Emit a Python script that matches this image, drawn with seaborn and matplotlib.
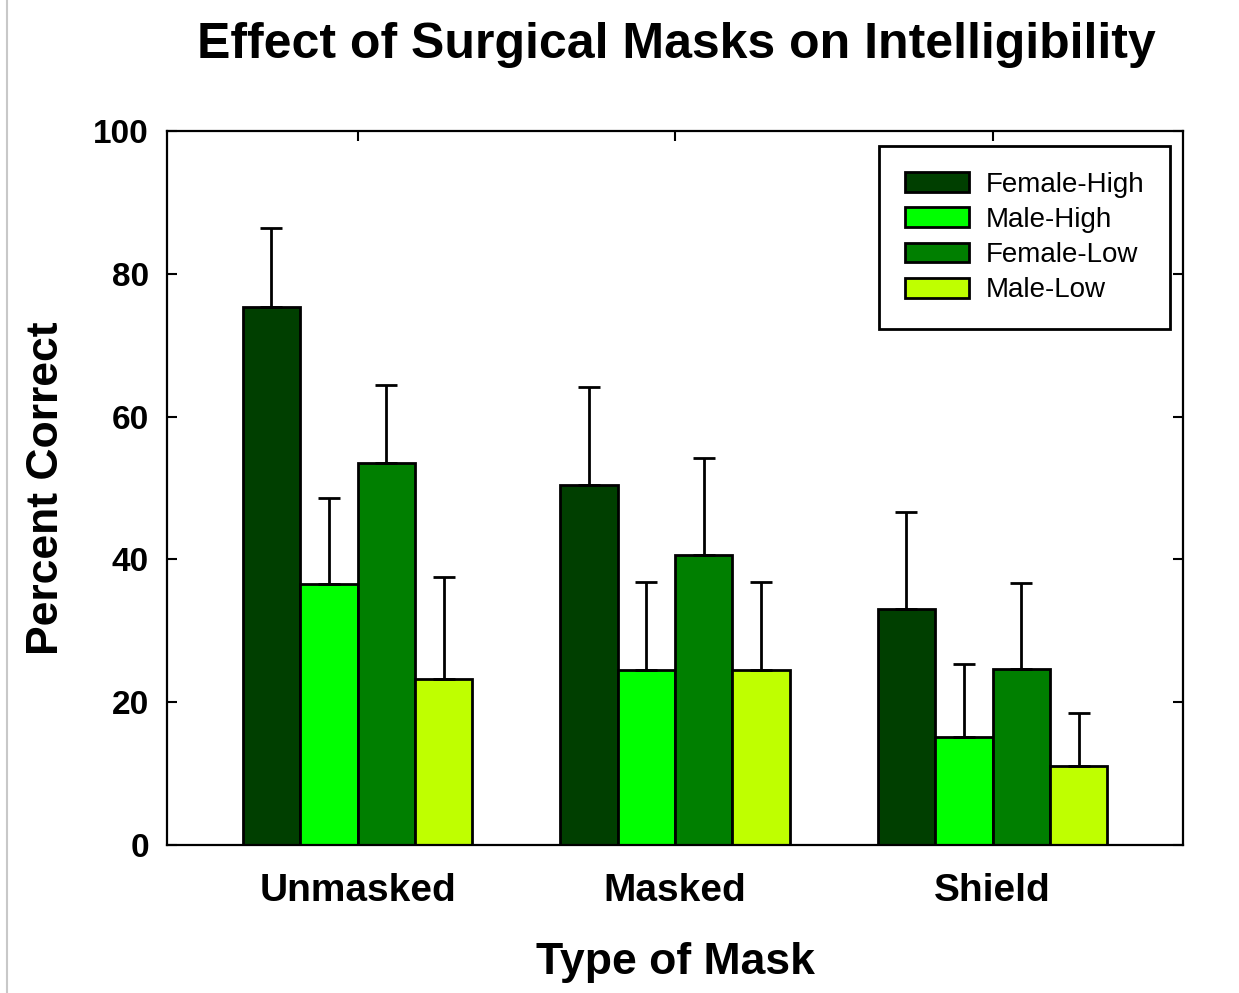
"""Grouped bar chart: effect of surgical masks on intelligibility."""

import matplotlib

matplotlib.use("Agg")
import matplotlib.pyplot as plt
import pandas as pd
import seaborn as sns
from matplotlib.lines import Line2D
from matplotlib.patches import Patch

masks = ["Unmasked", "Masked", "Shield"]
groups = ["Female-High", "Male-High", "Female-Low", "Male-Low"]
colors = ["#003f00", "#00ff00", "#007f00", "#bfff00"]

# percent correct per group, one value per mask type
female_high = [75.4, 50.4, 33.0]
male_high = [36.6, 24.5, 15.1]
female_low = [53.5, 40.6, 24.6]
male_low = [23.2, 24.5, 11.1]

# upper error bar length (SD)
female_high_err = [11.0, 13.8, 13.6]
male_high_err = [12.0, 12.4, 10.2]
female_low_err = [10.9, 13.6, 12.1]
male_low_err = [14.3, 12.4, 7.4]

means = [female_high, male_high, female_low, male_low]
errs = [female_high_err, male_high_err, female_low_err, male_low_err]

df = pd.DataFrame(
    [(m, g, means[i][j]) for i, g in enumerate(groups) for j, m in enumerate(masks)],
    columns=["mask", "group", "pct"],
)

sns.set_theme(style="white")
plt.rcParams["font.family"] = ["Liberation Sans", "DejaVu Sans"]
plt.rcParams["text.color"] = "black"
plt.rcParams["axes.labelcolor"] = "black"
plt.rcParams["xtick.color"] = "black"
plt.rcParams["ytick.color"] = "black"

fig = plt.figure(figsize=(12.39, 9.93), dpi=100)
ax = fig.add_axes([0.1348, 0.149, 0.820, 0.719])

sns.barplot(
    data=df, x="mask", y="pct", hue="group", order=masks, hue_order=groups,
    palette=colors, width=0.724, edgecolor="black", linewidth=2, errorbar=None,
    saturation=1, legend=False, ax=ax,
)

# upper-only error bars at each bar's centre
for container, err in zip(ax.containers, errs):
    xs = [b.get_x() + b.get_width() / 2 for b in container]
    ys = [b.get_height() for b in container]
    ax.errorbar(xs, ys, yerr=[[0] * len(err), err], fmt="none", ecolor="black",
                elinewidth=2, capsize=8, capthick=2, zorder=1)

ax.set_xlim(-0.6, 2.6)
ax.set_ylim(0, 100)
ax.set_yticks([0, 20, 40, 60, 80, 100])

for s in ax.spines.values():
    s.set_linewidth(1.6)
    s.set_color("black")

ax.tick_params(axis="both", direction="in", length=7, width=1.5, color="black",
               top=True, right=True, bottom=True, left=True)
ax.tick_params(axis="y", pad=13, labelsize=24)
ax.tick_params(axis="x", pad=20, labelsize=28)
for lab in ax.get_xticklabels() + ax.get_yticklabels():
    lab.set_fontweight("bold")

ax.set_xlabel("Type of Mask", fontsize=32, fontweight="bold", labelpad=24)
ax.set_ylabel("Percent Correct", fontsize=32, fontweight="bold", labelpad=19)
fig.suptitle("Effect of Surgical Masks on Intelligibility", fontsize=36,
             fontweight="bold", x=0.546, y=0.978)

handles = [Patch(facecolor=c, edgecolor="black", linewidth=2) for c in colors]
leg = ax.legend(handles, groups, loc="upper right", bbox_to_anchor=(0.987, 0.979),
                fontsize=20, frameon=True, fancybox=False, edgecolor="black",
                framealpha=1, handlelength=2.3, handleheight=0.72,
                handletextpad=0.58, labelspacing=0.33, borderpad=0.93,
                borderaxespad=0)
leg.get_frame().set_linewidth(2)

# faint page border on the left
fig.add_artist(Line2D([7 / 1239, 7 / 1239], [0, 1], color="#c8c8c8", lw=1.5,
                      transform=fig.transFigure))

fig.savefig("out.png", dpi=100)
plt.close(fig)
